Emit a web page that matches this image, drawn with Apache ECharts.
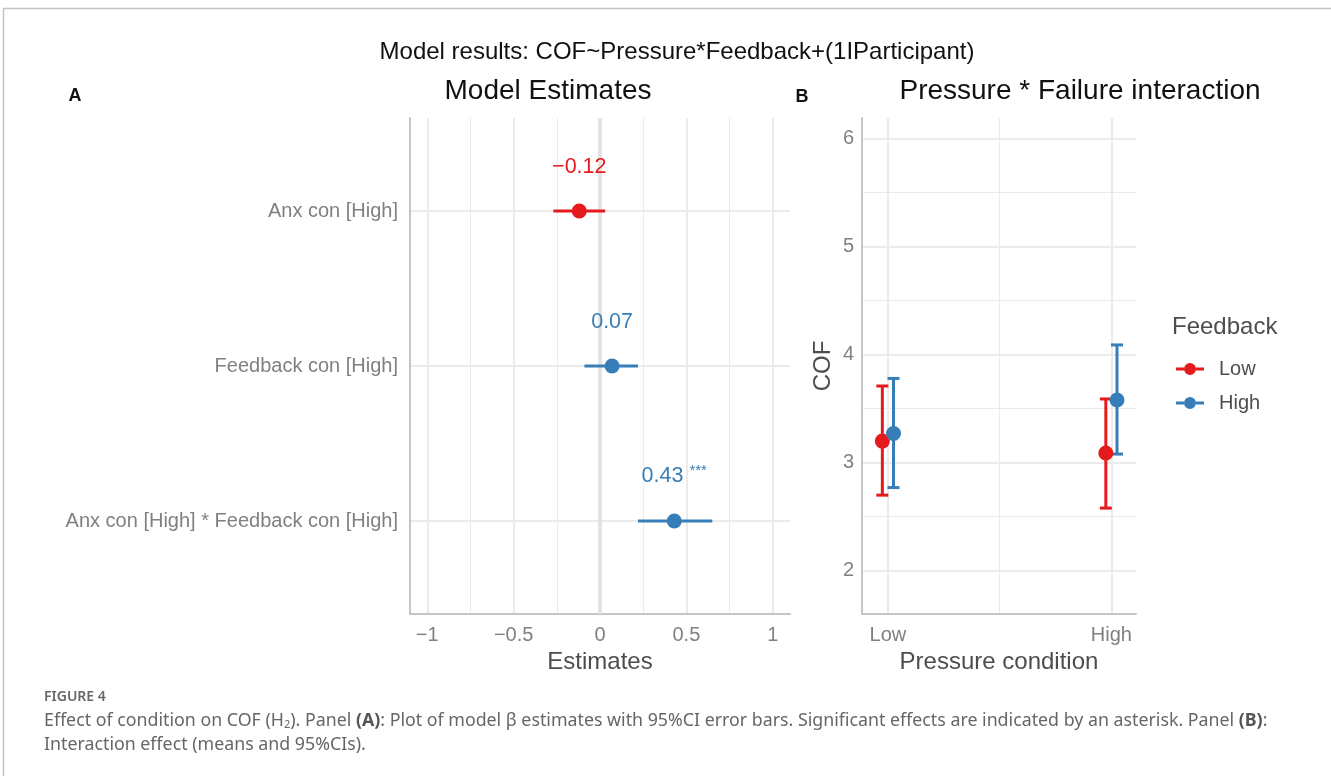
<!DOCTYPE html>
<html>
<head>
<meta charset="utf-8">
<script src="https://cdn.jsdelivr.net/npm/echarts@6/dist/echarts.min.js"></script>
<style>
  html, body { margin: 0; padding: 0; background: #ffffff; }
  #chart { width: 1331px; height: 776px; }
</style>
</head>
<body>
<div id="chart"></div>
<script>
// Panel A - model estimates
const termNames = ['Anx con [High]', 'Feedback con [High]', 'Anx con [High] * Feedback con [High]']
const estimates = [-0.12, 0.07, 0.43]
const ciLower = [-0.27, -0.09, 0.22]
const ciUpper = [0.03, 0.22, 0.65]
const signif = ['', '', '***']
const estTicks = [-1, -0.5, 0, 0.5, 1]
const estMinorTicks = [-0.75, -0.25, 0.25, 0.75]

// Panel B - interaction means
const pressureLevels = ['Low', 'High']
const feedbackLevels = ['Low', 'High']
const cofMean = [[3.20, 3.09], [3.27, 3.58]]   // [feedback][pressure]
const cofLower = [[2.70, 2.58], [2.77, 3.08]]
const cofUpper = [[3.71, 3.59], [3.78, 4.09]]
const cofTicks = [2, 3, 4, 5, 6]
const cofMinorTicks = [2.5, 3.5, 4.5, 5.5]

const COLORS = {
  red: '#e41a1c',
  blue: '#377eb8',
  grid: '#ebebeb',
  axis: '#c6c6c6',
  tick: '#808080',
  title: '#4d4d4d',
}
const FONT = '"Liberation Sans", Arial, sans-serif'
const fbColors = [COLORS.red, COLORS.blue]
const dodge = [-0.025, 0.025]

const fmtNum = (v) => String(v).replace('-', '\u2212')

const chart = echarts.init(document.getElementById('chart'), null, { renderer: 'canvas' })

// gridline axes: major + minor per panel
const majorX = (grid, min, max, ticks, fmt, name, nameGap) => ({
  type: 'value', gridIndex: grid, min, max,
  axisLine: { show: true, onZero: false, lineStyle: { color: COLORS.axis, width: 2 } },
  axisTick: { show: false, customValues: ticks },
  axisLabel: { customValues: ticks, formatter: fmt, color: COLORS.tick, fontSize: 20, fontFamily: FONT, margin: 11 },
  splitLine: { show: true, lineStyle: { color: COLORS.grid, width: 2 } },
  name, nameLocation: 'middle', nameGap,
  nameTextStyle: { color: COLORS.title, fontSize: 24, fontFamily: FONT },
})
const minorAxis = (grid, min, max, ticks) => ({
  type: 'value', gridIndex: grid, min, max,
  axisLine: { show: false },
  axisTick: { show: false, customValues: ticks },
  axisLabel: { show: false },
  splitLine: { show: true, lineStyle: { color: COLORS.grid, width: 1 } },
})

const option = {
  animation: false,
  backgroundColor: '#ffffff',
  grid: [
    { left: 410, top: 118, width: 380, height: 496 },
    { left: 862, top: 118, width: 274, height: 496 },
  ],
  xAxis: [
    majorX(0, -1.1, 1.1, estTicks, fmtNum, 'Estimates', 36),
    minorAxis(0, -1.1, 1.1, estMinorTicks),
    majorX(1, 0.884, 2.11, [1, 2], (v) => pressureLevels[Math.round(v) - 1], 'Pressure condition', 36),
    minorAxis(1, 0.884, 2.11, [1.5]),
  ],
  yAxis: [
    {
      type: 'value', gridIndex: 0, min: 0.4, max: 3.6, inverse: true,
      axisLine: { show: true, onZero: false, lineStyle: { color: COLORS.axis, width: 2 } },
      axisTick: { show: false, customValues: [1, 2, 3] },
      axisLabel: {
        customValues: [1, 2, 3],
        formatter: (v) => termNames[Math.round(v) - 1],
        color: COLORS.tick, fontSize: 20, fontFamily: FONT, margin: 12,
      },
      splitLine: { show: true, lineStyle: { color: COLORS.grid, width: 2 } },
    },
    {
      type: 'value', gridIndex: 1, min: 1.6, max: 6.19,
      axisLine: { show: true, onZero: false, lineStyle: { color: COLORS.axis, width: 2 } },
      axisTick: { show: false, customValues: cofTicks },
      axisLabel: { customValues: cofTicks, color: COLORS.tick, fontSize: 20, fontFamily: FONT, margin: 8 },
      splitLine: { show: true, lineStyle: { color: COLORS.grid, width: 2 } },
      name: 'COF', nameLocation: 'middle', nameGap: 27, nameRotate: 90,
      nameTextStyle: { color: COLORS.title, fontSize: 24, fontFamily: FONT },
    },
    minorAxis(1, 1.6, 6.19, cofMinorTicks),
  ],
  legend: {
    data: feedbackLevels.map((name, i) => ({
      name,
      icon: 'path://M0 4.5 H8 V7.5 H0 Z M20 4.5 H28 V7.5 H20 Z M8 6 A6 6 0 1 0 20 6 A6 6 0 1 0 8 6 Z',
      itemStyle: { color: fbColors[i] },
    })),
    orient: 'vertical',
    left: 1171, top: 354,
    itemWidth: 28, itemHeight: 12, itemGap: 14,
    textStyle: { color: COLORS.title, fontSize: 20, fontFamily: FONT, padding: [0, 0, 0, 10] },
    selectedMode: false,
  },
  graphic: [
    { type: 'line', shape: { x1: 3, y1: 8.5, x2: 1331, y2: 8.5 }, style: { stroke: '#c4c4c4', lineWidth: 1.5 } },
    { type: 'line', shape: { x1: 3.5, y1: 8, x2: 3.5, y2: 776 }, style: { stroke: '#c4c4c4', lineWidth: 1.5 } },
    { type: 'text', x: 677, y: 52, style: { text: 'Model results: COF~Pressure*Feedback+(1IParticipant)', fill: '#111', font: '24px ' + FONT, align: 'center', verticalAlign: 'middle' } },
    { type: 'text', x: 548, y: 91, style: { text: 'Model Estimates', fill: '#111', font: '28px ' + FONT, align: 'center', verticalAlign: 'middle' } },
    { type: 'text', x: 1080, y: 91, style: { text: 'Pressure * Failure interaction', fill: '#111', font: '28px ' + FONT, align: 'center', verticalAlign: 'middle' } },
    { type: 'text', x: 75, y: 96, style: { text: 'A', fill: '#111', font: 'bold 18px ' + FONT, align: 'center', verticalAlign: 'middle' } },
    { type: 'text', x: 802, y: 97, style: { text: 'B', fill: '#111', font: 'bold 18px ' + FONT, align: 'center', verticalAlign: 'middle' } },
    { type: 'text', x: 1172, y: 327, style: { text: 'Feedback', fill: COLORS.title, font: '24px ' + FONT, align: 'left', verticalAlign: 'middle' } },
    { type: 'text', x: 44, y: 697, style: { text: 'FIGURE 4', fill: '#666', font: '600 14px "Noto Sans", sans-serif', align: 'left', verticalAlign: 'middle' } },
    {
      type: 'text', x: 44, y: 733,
      style: {
        text: 'Effect of condition on COF (H{sub|2}). Panel {b|(A)}: Plot of model \u03b2 estimates with 95%CI error bars. Significant effects are indicated by an asterisk. Panel {b|(B)}:\nInteraction effect (means and 95%CIs).',
        fill: '#666', font: '17.8px "Noto Sans", sans-serif', lineHeight: 24,
        align: 'left', verticalAlign: 'middle',
        rich: {
          sub: { fontSize: 11, fill: '#666', padding: [8, 0, 0, 0], fontFamily: 'Noto Sans' },
          b: { fontWeight: 'bold', fill: '#555', fontSize: 17.8, fontFamily: 'Noto Sans' },
        },
      },
    },
  ],
  series: [
    // panel A error bars
    {
      type: 'custom', xAxisIndex: 0, yAxisIndex: 0, z: 3,
      data: termNames.map((t, i) => ({
        value: [i + 1, ciLower[i], ciUpper[i]],
        itemStyle: { color: estimates[i] < 0 ? COLORS.red : COLORS.blue },
      })),
      encode: { x: [1, 2], y: 0 },
      renderItem: (params, api) => {
        const p1 = api.coord([api.value(1), api.value(0)])
        const p2 = api.coord([api.value(2), api.value(0)])
        return {
          type: 'line',
          shape: { x1: p1[0], y1: p1[1], x2: p2[0], y2: p2[1] },
          style: { stroke: api.visual('color'), lineWidth: 3 },
        }
      },
    },
    // panel A points + labels
    {
      type: 'scatter', xAxisIndex: 0, yAxisIndex: 0, z: 4,
      symbolSize: 15,
      data: termNames.map((t, i) => ({
        value: [estimates[i], i + 1],
        itemStyle: { color: estimates[i] < 0 ? COLORS.red : COLORS.blue, opacity: 1 },
        label: { color: estimates[i] < 0 ? COLORS.red : COLORS.blue },
      })),
      label: {
        show: true, position: 'top', distance: 25,
        fontSize: 21.5, fontFamily: FONT,
        formatter: (p) => {
          const i = p.dataIndex
          const s = signif[i] ? ' {s|' + signif[i] + '}' : ''
          return fmtNum(estimates[i].toFixed(2)) + s
        },
        rich: { s: { fontSize: 15, fontFamily: FONT, padding: [0, 0, 10, 0] } },
      },
      markLine: {
        silent: true, symbol: 'none', label: { show: false },
        lineStyle: { color: '#e3e3e3', width: 4, type: 'solid', opacity: 1 },
        data: [{ xAxis: 0 }],
        z: 1,
      },
    },
    // panel B error bars + points
    ...feedbackLevels.map((fb, f) => ({
      type: 'custom', xAxisIndex: 2, yAxisIndex: 1, z: 3,
      name: fb + ' CI',
      itemStyle: { color: fbColors[f] },
      data: pressureLevels.map((pl, j) => [j + 1 + dodge[f], cofLower[f][j], cofUpper[f][j]]),
      encode: { x: 0, y: [1, 2] },
      renderItem: (params, api) => {
        const top = api.coord([api.value(0), api.value(2)])
        const bot = api.coord([api.value(0), api.value(1)])
        const style = { stroke: api.visual('color'), lineWidth: 3 }
        const w = 6
        return {
          type: 'group',
          children: [
            { type: 'line', shape: { x1: top[0], y1: top[1], x2: bot[0], y2: bot[1] }, style },
            { type: 'line', shape: { x1: top[0] - w, y1: top[1], x2: top[0] + w, y2: top[1] }, style },
            { type: 'line', shape: { x1: bot[0] - w, y1: bot[1], x2: bot[0] + w, y2: bot[1] }, style },
          ],
        }
      },
    })),
    ...feedbackLevels.map((fb, f) => ({
      type: 'scatter', xAxisIndex: 2, yAxisIndex: 1, z: 4,
      name: fb,
      symbolSize: 15,
      itemStyle: { color: fbColors[f], opacity: 1 },
      data: pressureLevels.map((pl, j) => [j + 1 + dodge[f], cofMean[f][j]]),
    })),
  ],
}

chart.setOption(option)
window.addEventListener('resize', () => chart.resize())
</script>
</body>
</html>
